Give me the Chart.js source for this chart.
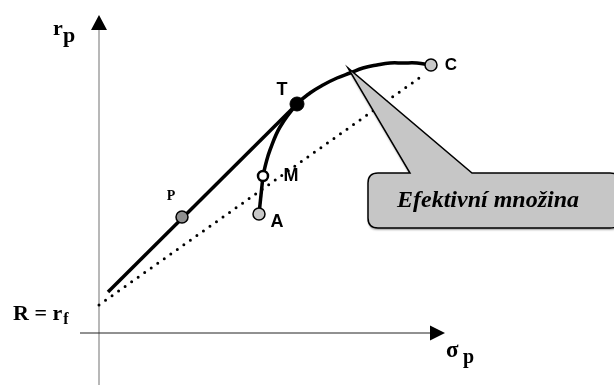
<!DOCTYPE html>
<html>
<head>
<meta charset="utf-8">
<script src="https://cdn.jsdelivr.net/npm/chart.js@4"></script>
<style>
    html, body { margin: 0; padding: 0; background: #fff; }
    #wrap { position: relative; width: 614px; height: 385px; }
</style>
</head>
<body>
<div id="wrap"><canvas id="chart"></canvas></div>
<script>
// Data (sigma_p on x, r_p on y, arbitrary units)
const riskFree = { x: 0, y: 2.8 };
const cmlStart = { x: 0.9, y: 4.1 };
const dottedEnd = { x: 32.3, y: 25.7 };

const frontierSigma = [16.4, 16.7, 17.1, 18.1, 19.8, 21.1, 22.4, 23.8, 25.1, 26.4, 27.8, 29.1, 30.4, 31.8, 33.2];
const frontierReturn = [15.7, 17.0, 18.3, 20.6, 22.9, 24.0, 24.8, 25.5, 26.0, 26.5, 26.8, 27.0, 27.0, 27.0, 26.8];

const pointNames = ['P', 'T', 'M', 'A', 'C'];
const pointSigma = [8.3, 19.8, 16.4, 16.0, 33.2];
const pointReturn = [11.6, 22.9, 15.7, 11.9, 26.8];

const calloutText = 'Efektivní množina';
const calloutTip = { x: 24.9, y: 26.5 };

// Layout helpers
const labelOffsets = {
    P: { dx: -11, dy: -21, font: 'bold 14px "Liberation Serif"' },
    T: { dx: -15, dy: -14, font: 'bold 18px "Liberation Sans"' },
    M: { dx: 28, dy: 0, font: 'bold 18px "Liberation Sans"' },
    A: { dx: 18, dy: 8, font: 'bold 18px "Liberation Sans"' },
    C: { dx: 20, dy: 0, font: 'bold 17px "Liberation Sans"' }
};

function getPoint(name) {
    const i = pointNames.indexOf(name);
    return { x: pointSigma[i], y: pointReturn[i] };
}

const frontierData = frontierSigma.map((s, i) => ({ x: s, y: frontierReturn[i] }));
const markerData = pointNames.map(n => getPoint(n));

// Draws axes, callout and text labels around the datasets
const diagramPlugin = {
    id: 'diagram',
    beforeDatasetsDraw(chart) {
        const ctx = chart.ctx;
        const xs = chart.scales.x;
        const ys = chart.scales.y;
        const x0 = xs.getPixelForValue(0);
        const y0 = ys.getPixelForValue(0);
        ctx.save();

        // vertical axis
        ctx.strokeStyle = '#a0a0a0';
        ctx.lineWidth = 1.5;
        ctx.beginPath();
        ctx.moveTo(x0, 385);
        ctx.lineTo(x0, 30);
        ctx.stroke();
        ctx.fillStyle = '#000';
        ctx.beginPath();
        ctx.moveTo(x0, 15);
        ctx.lineTo(x0 - 8, 30);
        ctx.lineTo(x0 + 8, 30);
        ctx.closePath();
        ctx.fill();

        // horizontal axis
        ctx.strokeStyle = '#222';
        ctx.lineWidth = 1;
        ctx.beginPath();
        ctx.moveTo(80, y0);
        ctx.lineTo(432, y0);
        ctx.stroke();
        ctx.beginPath();
        ctx.moveTo(445, y0);
        ctx.lineTo(430, y0 - 7.5);
        ctx.lineTo(430, y0 + 7.5);
        ctx.closePath();
        ctx.fill();

        // axis titles
        ctx.fillStyle = '#000';
        ctx.textBaseline = 'alphabetic';
        ctx.font = 'bold 22px "Liberation Serif"';
        ctx.fillText('r', x0 - 46, 35);
        ctx.fillText('p', x0 - 36, 42);

        ctx.font = 'bold 22px "Liberation Serif"';
        const rfY = ys.getPixelForValue(riskFree.y) + 15;
        ctx.fillText('R = r', 13, rfY);
        const w = ctx.measureText('R = r').width;
        ctx.font = 'bold 16px "Liberation Serif"';
        ctx.fillText('f', 13 + w + 1, rfY + 4);

        ctx.font = 'bold 23px "Liberation Serif"';
        ctx.fillText('σ', 446, y0 + 24);
        ctx.font = 'bold 20px "Liberation Serif"';
        ctx.fillText('p', 463, y0 + 30);
        ctx.restore();
    },
    afterDatasetsDraw(chart) {
        const ctx = chart.ctx;
        const xs = chart.scales.x;
        const ys = chart.scales.y;
        ctx.save();

        // callout
        const tipX = xs.getPixelForValue(calloutTip.x);
        const tipY = ys.getPixelForValue(calloutTip.y);
        const bx = 368, by = 173, bw = 252, bh = 55, r = 10;
        ctx.beginPath();
        ctx.moveTo(bx + r, by);
        ctx.lineTo(410, by);
        ctx.lineTo(tipX, tipY);
        ctx.lineTo(472, by);
        ctx.lineTo(bx + bw - r, by);
        ctx.quadraticCurveTo(bx + bw, by, bx + bw, by + r);
        ctx.lineTo(bx + bw, by + bh - r);
        ctx.quadraticCurveTo(bx + bw, by + bh, bx + bw - r, by + bh);
        ctx.lineTo(bx + r, by + bh);
        ctx.quadraticCurveTo(bx, by + bh, bx, by + bh - r);
        ctx.lineTo(bx, by + r);
        ctx.quadraticCurveTo(bx, by, bx + r, by);
        ctx.closePath();
        ctx.shadowColor = 'rgba(0,0,0,0.35)';
        ctx.shadowOffsetY = 2;
        ctx.shadowBlur = 2;
        ctx.fillStyle = '#c6c6c6';
        ctx.fill();
        ctx.shadowColor = 'transparent';
        ctx.strokeStyle = '#000';
        ctx.lineWidth = 1.5;
        ctx.stroke();

        ctx.fillStyle = '#000';
        ctx.font = 'italic bold 24px "Liberation Serif"';
        ctx.textAlign = 'center';
        ctx.textBaseline = 'alphabetic';
        ctx.fillText(calloutText, 488, 207);

        // point labels
        ctx.textBaseline = 'middle';
        pointNames.forEach(name => {
            const p = getPoint(name);
            const o = labelOffsets[name];
            ctx.font = o.font;
            ctx.fillText(name, xs.getPixelForValue(p.x) + o.dx, ys.getPixelForValue(p.y) + o.dy);
        });
        ctx.restore();
    }
};

new Chart(document.getElementById('chart'), {
    type: 'scatter',
    data: {
        datasets: [
            {
                label: 'points',
                data: markerData,
                order: 0,
                showLine: false,
                pointRadius: [6, 7, 5, 6, 6],
                pointBackgroundColor: ['#8f8f8f', '#000', '#fff', '#c8c8c8', '#c8c8c8'],
                pointBorderColor: '#000',
                pointBorderWidth: [1.5, 1, 2.5, 1.5, 1.5]
            },
            {
                label: 'frontier',
                data: frontierData,
                order: 1,
                showLine: true,
                tension: 0.4,
                borderColor: '#000',
                borderWidth: 3.5,
                pointRadius: 0
            },
            {
                label: 'stem',
                data: [getPoint('A'), getPoint('M')],
                order: 2,
                showLine: true,
                borderColor: '#000',
                borderWidth: 3.5,
                pointRadius: 0
            },
            {
                label: 'cml',
                data: [cmlStart, getPoint('T')],
                order: 3,
                showLine: true,
                borderColor: '#000',
                borderWidth: 3.5,
                pointRadius: 0
            },
            {
                label: 'dotted',
                data: [riskFree, dottedEnd],
                order: 4,
                showLine: true,
                borderColor: '#000',
                borderWidth: 3,
                borderDash: [0, 8],
                borderCapStyle: 'round',
                pointRadius: 0
            }
        ]
    },
    options: {
        responsive: true,
        maintainAspectRatio: false,
        animation: false,
        events: [],
        layout: { padding: 0, autoPadding: false },
        plugins: {
            legend: { display: false },
            tooltip: { enabled: false }
        },
        scales: {
            x: { type: 'linear', display: false, min: -9.9, max: 51.5 },
            y: { type: 'linear', display: false, min: -5.2, max: 33.3 }
        }
    },
    plugins: [diagramPlugin]
});
</script>
</body>
</html>
